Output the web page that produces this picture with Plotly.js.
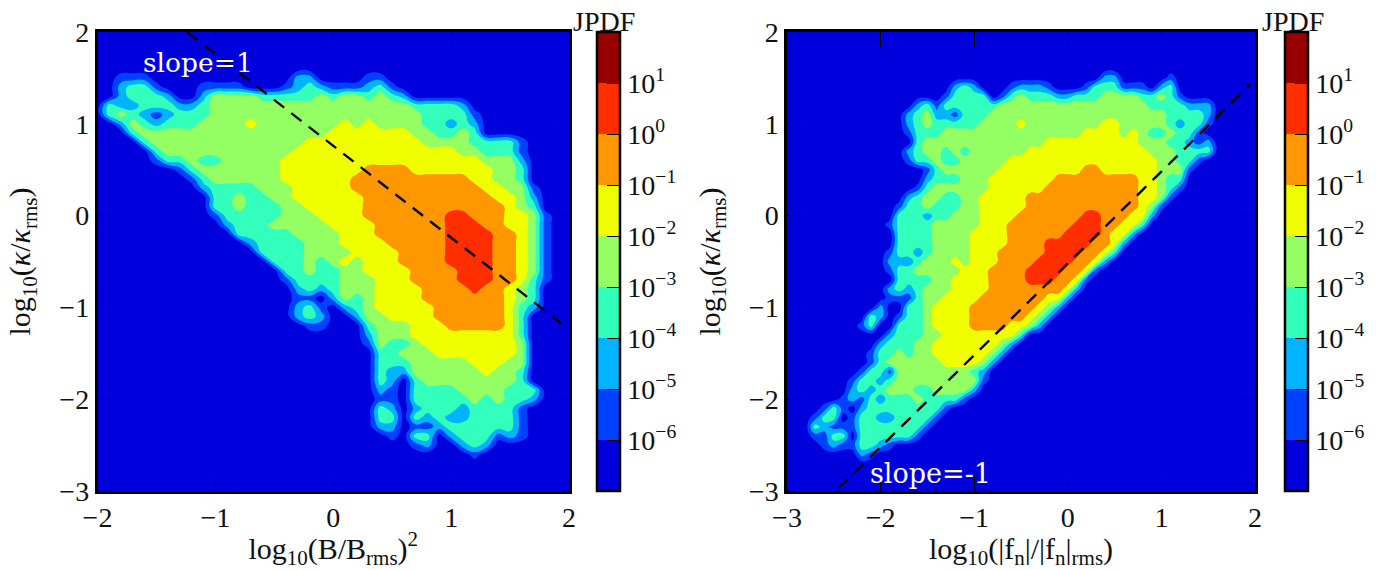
<!DOCTYPE html>
<html><head><meta charset="utf-8">
<script src="https://cdn.plot.ly/plotly-3.0.1.min.js"></script>
<style>html,body{margin:0;padding:0;background:#fff}</style></head>
<body><div id="chart" style="width:1389px;height:570px"></div>
<script>
// Each digit is the decade band of the JPDF at one grid node:
// 0: 1e-7..1e-6, 1: 1e-6..1e-5, ... 7: 1e0..1e1. Rows run from y=2.0 down to y=-3.0, step 0.1.
const leftBands = [
"","","","","",
"0011100000 0000000220 0001100000",
"0023310001 1110001232 1112310000",
"0023332002 4444333334 3443432000",
"0322333223 4444444444 4444444333 3200000000",
"0343212333 4444444444 4444444433 3310000000",
"0024323334 4445444444 4545444433 2320000000",
"0003444444 4444444444 5555555443 3430000000",
"0000344444 4444444455 5555555544 4433331000",
"0000034444 4444444555 5555555555 5443331000",
"0000013343 3444445555 5555555555 5554442000",
"0000000134 4444445555 5556666555 5555443000",
"0000000013 4444445555 5566666666 6655443000",
"0000000002 3333444555 5566666666 6665544100",
"0000000000 3343344555 5556666666 6666554200",
"0000000000 3343334455 5556666666 6666654300",
"0000000000 1333334445 5556666666 7766655410",
"0000000000 0233344444 5555666666 7776655410",
"0000000000 0033333444 4555666666 7777665410",
"0000000000 0002333344 4555566666 7777665410",
"0000000000 0000333344 4455556666 7777665410",
"0000000000 0000033343 4545556666 7777665410",
"0000000000 0000003343 3445555666 6777665410",
"0000000000 0000001333 3444555666 6777665310",
"0000000000 0000000232 3444555566 6676654300",
"0000000000 0000000110 2434555566 6666654300",
"0000000000 0000000231 0234555556 6666653200",
"0000000000 0000000232 0024455556 6666653000",
"0000000000 0000000011 0003444555 6666653000",
"0000000000 0000000000 0002444555 5555553000",
"0000000000 0000000000 0001433455 5555554000",
"0000000000 0000000000 0000334445 5555554000",
"0000000000 0000000000 0000333444 4455544000",
"0000000000 0000000000 0000322444 4445443000",
"0000000000 0000000000 0000320344 4444443000",
"0000000000 0000000000 0000210333 3444433300",
"0000000000 0000000000 0000110333 3343433200",
"0000000000 0000000000 0000320233 3233331000",
"0000000000 0000000000 0000330323 2233331000",
"0000000000 0000000000 0000220112 3333331000",
"0000000000 0000000000 0000010330 2333121000",
"0000000000 0000000000 0000000120 0232000000",
"0000000000 0000000000 0000000000 0010000000",
"","","",""
];
const rightBands = [
"","","","","",
"0000000000 0000000000 0000000000 0000220000 0100000000",
"0000000000 0000000023 2000122210 0013331110 2300000000",
"0000000000 0000000133 3301343332 2333444433 4310000000",
"0000000000 0000231333 3334444444 4444444443 3332220000",
"0000000000 0002342213 3344444444 4444444444 4333320000",
"0000000000 0002343333 3444454444 4444554444 4323310000",
"0000000000 0001333444 4444444444 4455554543 3433100000",
"0000000000 0000344444 4444444455 5555555544 4332120000",
"0000000000 0002344343 4444445555 5555555554 4433330000",
"0000000000 0001334334 4444555555 5555555555 4433100000",
"0000000000 0000013444 4445555555 5566555555 4441000000",
"0000000000 0000023334 4455555556 6666666655 4330000000",
"0000000000 0000134444 4455555566 6666666655 4310000000",
"0000000000 0002344334 4555556666 6666666655 4100000000",
"0000000000 0013343334 4555556666 6666666654 1000000000",
"0000000000 0033323344 4555566666 6677666552",
"0000000000 0133334444 4555666666 6777665530",
"0000000000 0033334444 5555666666 7777655200",
"0000000000 0033334444 5555666677 7776652000",
"0000000000 0133234444 5556666677 7766530000",
"0000000000 0222344454 5556666777 7665200000",
"0000000000 0133444445 5566667777 6651000000",
"0000000000 0033334455 5566667776 6510000000",
"0000000000 0232344455 5566666666 5200000000",
"0000000000 0111344555 5666666655 2000000000",
"0000000000 2003345555 6666666542",
"0000000003 2013345555 6666665420",
"0000000013 0033345555 6666554200",
"0000000000 0233344555 5555530000",
"0000000000 2333445555 5554200000",
"0000000001 3343445555 5542000000",
"0000000001 3444444555 5420000000",
"0000000013 3144444444 3200000000",
"0000000133 2344444444 4100000000",
"0000000232 3444334444 2000000000",
"0000001213 2333433331",
"0000131023 3333333100",
"0001330133 2233331000",
"0003211133 3333310000",
"0001133033 3333100000",
"0000121133 2100000000",
"0000000021",
"","","",""
];
const leftColumnCount = 41, rightColumnCount = 51;
const leftXStart = -2, rightXStart = -3;
const yStart = 2, gridStep = 0.1;
const bandColors = ['#0000dc','#0040ff','#00b4ff','#33ffbc','#94ff62','#f0ff00','#ff9800','#ff2e00','#980000'];
const decadeTicks = [-6,-5,-4,-3,-2,-1,0,1];
const decadeLabels = ['10<sup>−6</sup>','10<sup>−5</sup>','10<sup>−4</sup>','10<sup>−3</sup>','10<sup>−2</sup>','10<sup>−1</sup>','10<sup>0</sup>','10<sup>1</sup>'];
const leftGuideX = [-1.24, 2], leftGuideY = [2, -1.24];
const rightGuideX = [-2.45, 1.95], rightGuideY = [-2.97, 1.43];

const W = 1389, H = 570;
const serif = '"Liberation Serif","DejaVu Serif",serif';
function decode(rows, n){
  return rows.map(r => Array.from(r.replace(/ /g,'').padEnd(n,'0')).map(d => -6.5 + Number(d)));
}
function axisValues(start, n, step){ const a=[]; for(let i=0;i<n;i++) a.push(Math.round((start+i*step)*10)/10); return a; }
const yGrid = axisValues(yStart, leftBands.length, -gridStep);
const colorscale = [];
bandColors.forEach((c,i)=>{ colorscale.push([i/bandColors.length,c]); colorscale.push([(i+1)/bandColors.length,c]); });

function contour(x, rows, n, xa, ya, cbX){
  return {type:'contour', x:x, y:yGrid, z:decode(rows,n), xaxis:xa, yaxis:ya,
    zauto:false, zmin:-7, zmax:2, colorscale:colorscale, autocontour:false,
    contours:{start:-6,end:1,size:1,coloring:'fill',showlines:false},
    line:{width:0,smoothing:1.3}, hoverinfo:'skip',
    colorbar:{x:cbX/W, xanchor:'left', xpad:0, ypad:0, y:1-491/H, yanchor:'bottom',
      len:459, lenmode:'pixels', thickness:23, thicknessmode:'pixels',
      outlinewidth:2.5, outlinecolor:'#000', tickmode:'array', tickvals:decadeTicks, ticktext:decadeLabels,
      ticks:'inside', ticklen:14, tickwidth:1.2, tickcolor:'#000',
      tickfont:{family:serif,size:28,color:'#111'}}};
}
function guide(x,y,xa,ya){
  return {type:'scatter',mode:'lines',x:x,y:y,xaxis:xa,yaxis:ya,hoverinfo:'skip',showlegend:false,
    line:{color:'#000',width:2.4,dash:'13px,9px'}};
}
const titleFont = {family:serif,size:30,color:'#111'};
const axisBase = {showgrid:false, zeroline:false, showline:true, mirror:'ticks', linecolor:'#000', linewidth:2.5,
  ticks:'inside', ticklen:15, tickwidth:1.2, tickcolor:'#000', tickfont:{family:serif,size:28,color:'#111'}, automargin:false};
const kappaTitle = {text:'log<sub>10</sub>(<i>κ</i>/<i>κ</i><sub>rms</sub>)', standoff:20, font:titleFont};
const layout = {
  width:W, height:H, margin:{l:0,r:0,t:0,b:0}, paper_bgcolor:'#fff', plot_bgcolor:'#0000dc', showlegend:false,
  xaxis:Object.assign({},axisBase,{domain:[97.5/W,569/W],range:[-2,2],anchor:'y',tickmode:'array',tickvals:[-2,-1,0,1,2],
    title:{text:'log<sub>10</sub>(B/B<sub>rms</sub>)<sup>2</sup>',standoff:13,font:titleFont}}),
  yaxis:Object.assign({},axisBase,{domain:[1-491/H,1-32/H],range:[-3,2],anchor:'x',tickmode:'array',tickvals:[-3,-2,-1,0,1,2],title:kappaTitle}),
  xaxis2:Object.assign({},axisBase,{domain:[787/W,1255/W],range:[-3,2],anchor:'y2',tickmode:'array',tickvals:[-3,-2,-1,0,1,2],
    title:{text:'log<sub>10</sub>(|f<sub>n</sub>|/|f<sub>n</sub>|<sub>rms</sub>)',standoff:13,font:titleFont}}),
  yaxis2:Object.assign({},axisBase,{domain:[1-491/H,1-32/H],range:[-3,2],anchor:'x2',tickmode:'array',tickvals:[-3,-2,-1,0,1,2],title:kappaTitle}),
  annotations:[
    {xref:'x',yref:'y',x:-1.63,y:1.67,xanchor:'left',yanchor:'middle',showarrow:false,text:'slope=1',font:{family:'"DejaVu Serif",serif',size:26.5,color:'#fff'}},
    {xref:'x2',yref:'y2',x:-2.14,y:-2.81,xanchor:'left',yanchor:'middle',showarrow:false,text:'slope=-1',font:{family:'"DejaVu Serif",serif',size:27,color:'#fff'}},
    {xref:'paper',yref:'paper',x:604/W,y:1-21/H,xanchor:'center',yanchor:'middle',showarrow:false,text:'JPDF',font:{family:serif,size:28,color:'#111'}},
    {xref:'paper',yref:'paper',x:1293/W,y:1-21/H,xanchor:'center',yanchor:'middle',showarrow:false,text:'JPDF',font:{family:serif,size:28,color:'#111'}}
  ]
};
const traces = [
  contour(axisValues(leftXStart,leftColumnCount,gridStep), leftBands, leftColumnCount, 'x','y',597),
  contour(axisValues(rightXStart,rightColumnCount,gridStep), rightBands, rightColumnCount, 'x2','y2',1285),
  guide(leftGuideX,leftGuideY,'x','y'),
  guide(rightGuideX,rightGuideY,'x2','y2')
];
Plotly.newPlot('chart',traces,layout,{displayModeBar:false,responsive:false});
</script></body></html>
